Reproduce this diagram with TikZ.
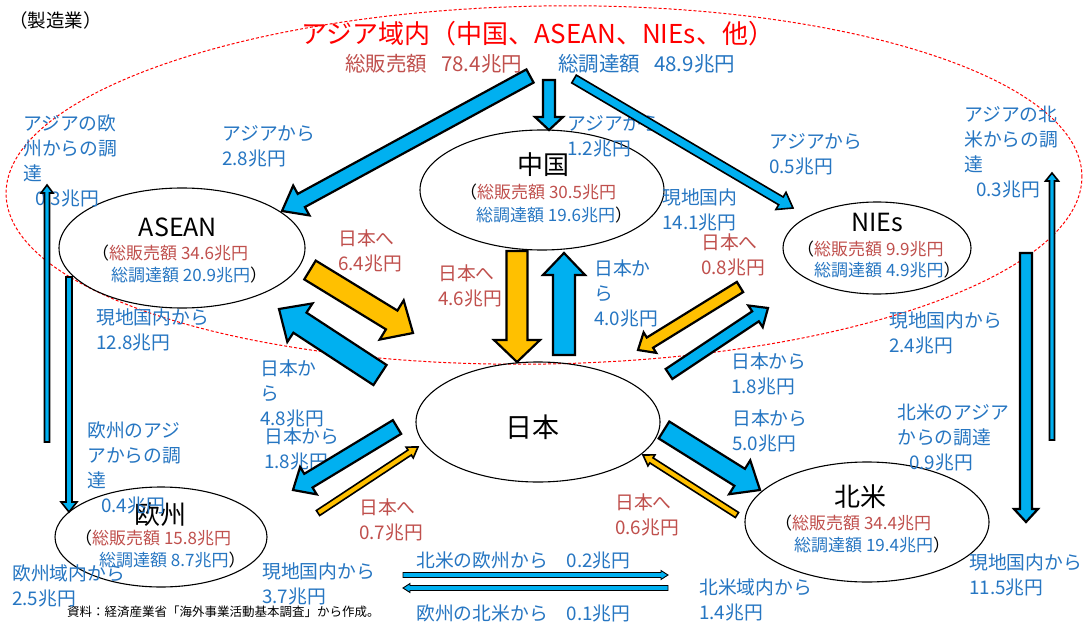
\documentclass[tikz,border=0pt]{standalone}
\usepackage{fontspec}
\setmainfont{Noto Sans CJK JP}
\usetikzlibrary{calc,shapes.geometric}
\definecolor{tblue}{RGB}{38,118,194}
\definecolor{tred}{RGB}{192,80,77}
\definecolor{ablue}{RGB}{0,176,240}
\definecolor{ayel}{RGB}{255,192,0}
\newcommand{\blockarr}[6][]{%
  \coordinate (bh) at ($(#3)!#6!(#2)$);
  \draw[#1] ($(#2)!#4!90:(#3)$) -- ($(bh)!#4!90:(#3)$) -- ($(bh)!#5!90:(#3)$) -- (#3)
    -- ($(bh)!#5!-90:(#3)$) -- ($(bh)!#4!-90:(#3)$) -- ($(#2)!#4!-90:(#3)$) -- cycle;
}
\tikzset{
  lbl/.style={anchor=west, inner sep=0pt, align=left, text=tblue, font=\fontsize{18.8}{25}\selectfont},
  lblr/.style={lbl, text=tred},
  region/.style={ellipse, draw=black, line width=1.1pt, inner sep=0pt},
  ttl/.style={inner sep=0pt, font=\fontsize{26}{28}\selectfont},
  inr/.style={anchor=west, inner sep=0pt, text=tred, font=\fontsize{17}{20}\selectfont},
  inb/.style={inr, text=tblue},
  bigB/.style={fill=ablue, draw=black, line width=2.2pt, line join=miter},
  bigY/.style={fill=ayel, draw=black, line width=2.2pt, line join=miter},
  thinB/.style={fill=ablue, draw=black, line width=1.6pt, line join=miter},
  thinY/.style={fill=ayel, draw=black, line width=1.6pt, line join=miter},
  hairB/.style={fill=ablue, draw=black, line width=0.9pt, line join=miter},
}
\begin{document}
\begin{tikzpicture}[x=1pt,y=-1pt]
\useasboundingbox[fill=white] (0,0) rectangle (1084,623);
% Asia region
\draw[red, line width=1pt, dash pattern=on 3pt off 2pt, rotate around={1:(544,185)}] (544,185) ellipse [x radius=538, y radius=179];
% regions
\node[region, minimum width=244pt, minimum height=120pt] (cn) at (542,190) {};
\node[region, minimum width=246pt, minimum height=120pt] (asean) at (182,248) {};
\node[region, minimum width=188pt, minimum height=92pt] (nies) at (877,248) {};
\node[region, minimum width=244pt, minimum height=120pt] (jp) at (538,422) {};
\node[region, minimum width=212pt, minimum height=100pt] (eu) at (161,537) {};
\node[region, minimum width=244pt, minimum height=120pt] (na) at (867,522) {};
% titles
\node[anchor=west, inner sep=0pt, font=\fontsize{18.5}{20}\selectfont] (mfg) at (9,20) {（製造業）};
\node[inner sep=0pt, text=red, font=\fontsize{26}{28}\selectfont] (asia) at (538,34) {アジア域内（中国、ASEAN、NIEs、他）};
\node[anchor=west, inner sep=0pt, text=tred, font=\fontsize{20.5}{22}\selectfont] (asiaS) at (345,64) {総販売額\hspace{14pt}78.4兆円};
\node[anchor=west, inner sep=0pt, text=tblue, font=\fontsize{20.5}{22}\selectfont] (asiaP) at (558,64) {総調達額\hspace{14pt}48.9兆円};
\node[anchor=west, inner sep=0pt, font=\fontsize{12.5}{14}\selectfont] (src) at (67,612) {資料：経済産業省「海外事業活動基本調査」から作成。};
% region names and totals
\node[ttl] (cnT) at (543,165) {中国};
\node[inr] (cnS) at (460,192) {\textcolor{black}{（}総販売額 30.5兆円};
\node[inb] (cnP) at (476,215) {総調達額 19.6兆円\textcolor{black}{）}};
\node[ttl, font=\fontsize{25}{28}\selectfont] (aseanT) at (178,227) {ASEAN};
\node[inr] (aseanS) at (92,253) {\textcolor{black}{（}総販売額 34.6兆円};
\node[inb] (aseanP) at (111,275) {総調達額 20.9兆円\textcolor{black}{）}};
\node[ttl, font=\fontsize{25}{28}\selectfont] (niesT) at (877,222) {NIEs};
\node[inr] (niesS) at (797,249) {\textcolor{black}{（}総販売額 9.9兆円};
\node[inb] (niesP) at (814,270) {総調達額 4.9兆円\textcolor{black}{）}};
\node[ttl, font=\fontsize{27}{28}\selectfont] (jpT) at (532,427) {日本};
\node[ttl] (euT) at (160,515) {欧州};
\node[inr] (euS) at (75,538) {\textcolor{black}{（}総販売額 15.8兆円};
\node[inb] (euP) at (99,560) {総調達額 8.7兆円\textcolor{black}{）}};
\node[ttl] (naT) at (860,497) {北米};
\node[inr] (naS) at (775,523) {\textcolor{black}{（}総販売額 34.4兆円};
\node[inb] (naP) at (794,545) {総調達額 19.4兆円\textcolor{black}{）}};
% flow labels
\node[lbl] (l1) at (23,161) {アジアの欧\\州からの調\\達\\\hspace*{12pt}0.3兆円};
\node[lbl] (l2) at (222,146) {アジアから\\2.8兆円};
\node[lbl] (l3) at (567,136) {アジアから\\1.2兆円};
\node[lbl] (l4) at (662,210) {現地国内\\14.1兆円};
\node[lbl] (l5) at (769,154) {アジアから\\0.5兆円};
\node[lbl] (l6) at (964,152) {アジアの北\\米からの調\\達\\\hspace*{12pt}0.3兆円};
\node[lblr] (l7) at (701,255) {日本へ\\0.8兆円};
\node[lbl] (l8) at (889,333) {現地国内から\\2.4兆円};
\node[lblr] (l9) at (338,251) {日本へ\\6.4兆円};
\node[lbl] (l10) at (96,330) {現地国内から\\12.8兆円};
\node[lbl] (l11) at (260,393) {日本か\\ら\\4.8兆円};
\node[lblr] (l12) at (438,286) {日本へ\\4.6兆円};
\node[lbl] (l13) at (594,293) {日本か\\ら\\4.0兆円};
\node[lbl] (l14) at (731,374) {日本から\\1.8兆円};
\node[lbl] (l15) at (732,431) {日本から\\5.0兆円};
\node[lbl] (l16) at (897,437) {北米のアジア\\からの調達\\\hspace*{12pt}0.9兆円};
\node[lbl] (l17) at (87,468) {欧州のアジ\\アからの調\\達\\\hspace*{14pt}0.4兆円};
\node[lbl] (l18) at (264,449) {日本から\\1.8兆円};
\node[lblr] (l19) at (359,520) {日本へ\\0.7兆円};
\node[lbl] (l20) at (12,586) {欧州域内から\\2.5兆円};
\node[lbl] (l21) at (262,584) {現地国内から\\3.7兆円};
\node[lblr] (l22) at (615,515) {日本へ\\0.6兆円};
\node[lbl] (l23) at (416,560) {北米の欧州から　0.2兆円};
\node[lbl] (l24) at (416,613) {欧州の北米から　0.1兆円};
\node[lbl] (l25) at (699,600) {北米域内から\\1.4兆円};
\node[lbl] (l26) at (969,575) {現地国内から\\11.5兆円};
% arrow end points
\coordinate (a1s) at (530,76);  \coordinate (a1e) at (282,211);
\coordinate (a2s) at (549,80);  \coordinate (a2e) at (549,130);
\coordinate (a3s) at (574,79);  \coordinate (a3e) at (793,208);
\coordinate (a4s) at (310,270); \coordinate (a4e) at (413,333);
\coordinate (a5s) at (380,375); \coordinate (a5e) at (279,309);
\coordinate (a6s) at (564,355); \coordinate (a6e) at (564,253);
\coordinate (a7s) at (517,251); \coordinate (a7e) at (517,362);
\coordinate (a8s) at (740,287); \coordinate (a8e) at (638,350);
\coordinate (a9s) at (669,374); \coordinate (a9e) at (768,308);
\coordinate (a10s) at (397,427); \coordinate (a10e) at (293,490);
\coordinate (a11s) at (318,513); \coordinate (a11e) at (418,447);
\coordinate (a12s) at (664,430); \coordinate (a12e) at (760,490);
\coordinate (a13s) at (737,515); \coordinate (a13e) at (643,455);
\coordinate (a14s) at (47,442);  \coordinate (a14e) at (47,185);
\coordinate (a15s) at (69,277);  \coordinate (a15e) at (69,512);
\coordinate (a16s) at (1052,440); \coordinate (a16e) at (1052,173);
\coordinate (a17s) at (1026,253); \coordinate (a17e) at (1026,522);
\coordinate (a18s) at (403,575); \coordinate (a18e) at (668,575);
\coordinate (a19s) at (668,588); \coordinate (a19e) at (403,588);
% arrows
\blockarr[bigB]{a1s}{a1e}{7.5pt}{17pt}{22pt}
\blockarr[bigB]{a2s}{a2e}{6pt}{14pt}{13pt}
\blockarr[thinB]{a3s}{a3e}{4.5pt}{10pt}{14pt}
\blockarr[bigY]{a4s}{a4e}{11pt}{23pt}{25pt}
\blockarr[bigB]{a5s}{a5e}{12pt}{23pt}{25pt}
\blockarr[bigB]{a6s}{a6e}{11pt}{21pt}{22pt}
\blockarr[bigY]{a7s}{a7e}{10.5pt}{23pt}{22pt}
\blockarr[bigY]{a8s}{a8e}{6pt}{12pt}{14pt}
\blockarr[bigB]{a9s}{a9e}{6pt}{13pt}{15pt}
\blockarr[bigB]{a10s}{a10e}{8pt}{16pt}{18pt}
\blockarr[thinY]{a11s}{a11e}{3pt}{6.5pt}{10pt}
\blockarr[bigB]{a12s}{a12e}{10pt}{20pt}{24pt}
\blockarr[thinY]{a13s}{a13e}{3pt}{6.5pt}{10pt}
\blockarr[thinB]{a14s}{a14e}{2.5pt}{6pt}{8pt}
\blockarr[thinB]{a15s}{a15e}{3pt}{8pt}{10pt}
\blockarr[thinB]{a16s}{a16e}{2.5pt}{6.5pt}{8pt}
\blockarr[bigB]{a17s}{a17e}{6pt}{12pt}{13pt}
\blockarr[hairB]{a18s}{a18e}{2.5pt}{4.5pt}{7pt}
\blockarr[hairB]{a19s}{a19e}{2.5pt}{4.5pt}{7pt}
\end{tikzpicture}
\end{document}
